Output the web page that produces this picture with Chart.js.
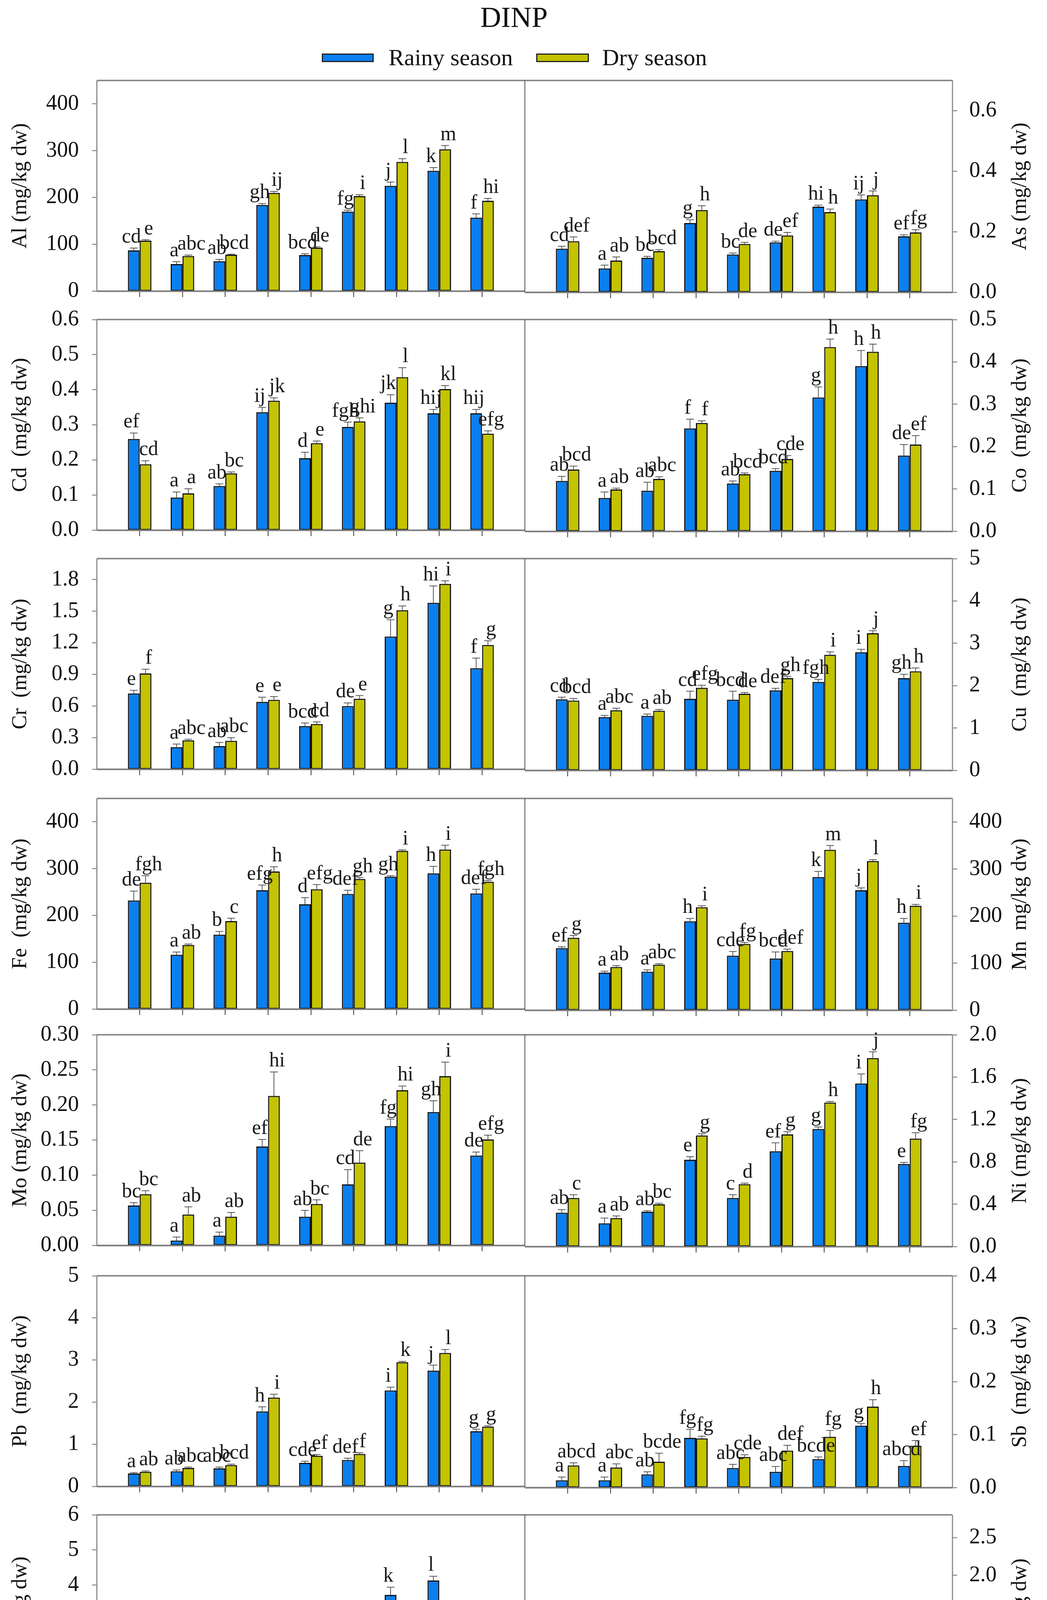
<!DOCTYPE html>
<html>
<head>
<meta charset="utf-8">
<title>DINP</title>
<script src="https://cdn.jsdelivr.net/npm/chart.js@4.4.1/dist/chart.umd.min.js"></script>
<style>
  html, body { margin: 0; padding: 0; background: #fff; }
  body { position: relative; width: 2681px; height: 5277px; overflow: hidden;
         font-family: "Liberation Serif", "Times New Roman", serif; color: #111; }
  #page { position: absolute; left: 0; top: 0; width: 2681px; height: 5277px; }
  canvas { position: absolute; }
  .txt { position: absolute; white-space: nowrap; line-height: 1; }
  .key { position: absolute; top: 137px; height: 22px; box-sizing: border-box; border: 3px solid #222; }
</style>
</head>
<body>
<div id="page">
<div class="txt" style="left:1316px; top:7px; font-size:74px; transform:translateX(-50%);">DINP</div>
<div class="key" style="left:824px; width:133px; background:#0a7ff0;"></div>
<div class="txt" style="left:995px; top:117px; font-size:60px;">Rainy season</div>
<div class="key" style="left:1373px; width:135px; background:#c3c300;"></div>
<div class="txt" style="left:1542px; top:117px; font-size:60px;">Dry season</div>
<div class="txt" style="left:1395px; top:5192px; font-size:61px; font-weight:bold; transform:translateX(-50%);">Monitoring site</div>
</div>

<script>
// monitoring sites (x axis)
const sites = ['DIC', 'DI1', 'DI2', 'DI3', 'DI4', 'DI5', 'DI6', 'DI7', 'DI8'];

// values, mg/kg dw
const alRainy = [87, 58, 64, 184, 77, 170, 225, 257, 157];
const alDry = [108, 75, 78, 210, 93, 203, 276, 303, 193];
const alRainyErr = [5, 5, 4, 3, 3, 3, 8, 7, 8];
const alDryErr = [2, 2, 1, 3, 2, 3, 7, 8, 5];
const alRainyTag = ['cd', 'a', 'ab', 'gh', 'bcd', 'fg', 'j', 'k', 'f'];
const alDryTag = ['e', 'abc', 'bcd', 'ij', 'de', 'i', 'l', 'm', 'hi'];

const asRainy = [0.144, 0.079, 0.114, 0.229, 0.125, 0.165, 0.283, 0.307, 0.185];
const asDry = [0.169, 0.105, 0.136, 0.272, 0.160, 0.188, 0.265, 0.321, 0.198];
const asRainyErr = [0.008, 0.011, 0.005, 0.011, 0.005, 0.004, 0.005, 0.015, 0.005];
const asDryErr = [0.014, 0.012, 0.005, 0.014, 0.005, 0.010, 0.010, 0.014, 0.009];
const asRainyTag = ['cd', 'a', 'bc', 'g', 'bc', 'de', 'hi', 'ij', 'ef'];
const asDryTag = ['def', 'ab', 'bcd', 'h', 'de', 'ef', 'h', 'j', 'fg'];

const cdRainy = [0.260, 0.093, 0.126, 0.336, 0.205, 0.294, 0.363, 0.333, 0.333];
const cdDry = [0.188, 0.105, 0.162, 0.369, 0.248, 0.310, 0.436, 0.402, 0.275];
const cdRainyErr = [0.017, 0.016, 0.006, 0.014, 0.017, 0.014, 0.023, 0.011, 0.011];
const cdDryErr = [0.010, 0.013, 0.004, 0.008, 0.006, 0.010, 0.027, 0.010, 0.008];
const cdRainyTag = ['ef', 'a', 'ab', 'ij', 'd', 'fgh', 'jk', 'hij', 'hij'];
const cdDryTag = ['cd', 'a', 'bc', 'jk', 'e', 'ghi', 'l', 'kl', 'efg'];

const coRainy = [0.119, 0.079, 0.096, 0.243, 0.113, 0.143, 0.316, 0.390, 0.179];
const coDry = [0.146, 0.099, 0.124, 0.256, 0.135, 0.171, 0.435, 0.424, 0.205];
const coRainyErr = [0.011, 0.014, 0.020, 0.022, 0.006, 0.005, 0.025, 0.037, 0.026];
const coDryErr = [0.008, 0.003, 0.005, 0.005, 0.003, 0.008, 0.019, 0.018, 0.021];
const coRainyTag = ['ab', 'a', 'ab', 'f', 'ab', 'bcd', 'g', 'h', 'de'];
const coDryTag = ['bcd', 'ab', 'abc', 'f', 'bcd', 'cde', 'h', 'h', 'ef'];

const crRainy = [0.72, 0.21, 0.22, 0.64, 0.41, 0.60, 1.26, 1.58, 0.96];
const crDry = [0.91, 0.275, 0.27, 0.66, 0.43, 0.67, 1.51, 1.76, 1.18];
const crRainyErr = [0.03, 0.03, 0.035, 0.045, 0.03, 0.03, 0.16, 0.16, 0.095];
const crDryErr = [0.04, 0.01, 0.03, 0.03, 0.02, 0.03, 0.04, 0.03, 0.04];
const crRainyTag = ['e', 'a', 'ab', 'e', 'bcd', 'de', 'g', 'hi', 'f'];
const crDryTag = ['f', 'abc', 'abc', 'e', 'cd', 'e', 'h', 'i', 'g'];

const cuRainy = [1.68, 1.26, 1.29, 1.69, 1.67, 1.89, 2.09, 2.79, 2.18];
const cuDry = [1.65, 1.42, 1.41, 1.95, 1.81, 2.18, 2.73, 3.24, 2.34];
const cuRainyErr = [0.05, 0.04, 0.04, 0.18, 0.20, 0.05, 0.06, 0.07, 0.09];
const cuDryErr = [0.05, 0.05, 0.03, 0.06, 0.03, 0.04, 0.07, 0.06, 0.08];
const cuRainyTag = ['cd', 'a', 'a', 'cd', 'bcd', 'def', 'fgh', 'i', 'gh'];
const cuDryTag = ['bcd', 'abc', 'ab', 'efg', 'de', 'gh', 'i', 'j', 'h'];

const feRainy = [232, 116, 159, 254, 224, 246, 283, 290, 247];
const feDry = [270, 137, 188, 294, 256, 278, 338, 341, 272];
const feRainyErr = [20, 6, 7, 11, 14, 8, 2, 15, 9];
const feDryErr = [15, 2, 6, 10, 10, 3, 2, 9, 3];
const feRainyTag = ['de', 'a', 'b', 'efg', 'd', 'def', 'gh', 'h', 'def'];
const feDryTag = ['fgh', 'ab', 'c', 'h', 'efg', 'gh', 'i', 'i', 'fgh'];

const mnRainy = [132, 80, 82, 189, 116, 110, 283, 255, 186];
const mnDry = [154, 92, 97, 219, 141, 126, 341, 317, 222];
const mnRainyErr = [3, 3, 4, 6, 9, 14, 12, 5, 9];
const mnDryErr = [5, 3, 2, 3, 3, 4, 9, 3, 3];
const mnRainyTag = ['ef', 'a', 'a', 'h', 'cde', 'bcd', 'k', 'j', 'h'];
const mnDryTag = ['g', 'ab', 'abc', 'i', 'fg', 'def', 'm', 'l', 'i'];

const moRainy = [0.057, 0.007, 0.014, 0.141, 0.041, 0.087, 0.170, 0.190, 0.128];
const moDry = [0.073, 0.044, 0.041, 0.213, 0.059, 0.118, 0.221, 0.241, 0.151];
const moRainyErr = [0.004, 0.005, 0.005, 0.010, 0.009, 0.021, 0.010, 0.016, 0.005];
const moDryErr = [0.005, 0.011, 0.006, 0.034, 0.006, 0.017, 0.006, 0.020, 0.006];
const moRainyTag = ['bc', 'a', 'a', 'ef', 'ab', 'cd', 'fg', 'gh', 'de'];
const moDryTag = ['bc', 'ab', 'ab', 'hi', 'bc', 'de', 'hi', 'i', 'efg'];

const niRainy = [0.32, 0.22, 0.33, 0.82, 0.46, 0.90, 1.11, 1.54, 0.78];
const niDry = [0.46, 0.27, 0.40, 1.05, 0.59, 1.06, 1.36, 1.78, 1.02];
const niRainyErr = [0.03, 0.05, 0.01, 0.03, 0.03, 0.08, 0.02, 0.09, 0.015];
const niDryErr = [0.03, 0.02, 0.01, 0.015, 0.01, 0.025, 0.01, 0.06, 0.055];
const niRainyTag = ['ab', 'a', 'ab', 'e', 'c', 'ef', 'g', 'i', 'e'];
const niDryTag = ['c', 'ab', 'bc', 'g', 'd', 'g', 'h', 'j', 'fg'];

const pbRainy = [0.31, 0.36, 0.43, 1.78, 0.56, 0.63, 2.28, 2.75, 1.31];
const pbDry = [0.35, 0.44, 0.51, 2.11, 0.73, 0.77, 2.95, 3.17, 1.42];
const pbRainyErr = [0.02, 0.03, 0.03, 0.11, 0.04, 0.04, 0.075, 0.13, 0.05];
const pbDryErr = [0.02, 0.02, 0.02, 0.08, 0.03, 0.03, 0.02, 0.08, 0.02];
const pbRainyTag = ['a', 'ab', 'abc', 'h', 'cde', 'def', 'i', 'j', 'g'];
const pbDryTag = ['ab', 'abc', 'bcd', 'i', 'ef', 'f', 'k', 'l', 'g'];

const sbRainy = [0.014, 0.014, 0.025, 0.094, 0.037, 0.030, 0.054, 0.117, 0.041];
const sbDry = [0.042, 0.038, 0.049, 0.093, 0.058, 0.070, 0.096, 0.153, 0.079];
const sbRainyErr = [0.006, 0.006, 0.005, 0.016, 0.007, 0.010, 0.004, 0.004, 0.010];
const sbDryErr = [0.005, 0.007, 0.016, 0.004, 0.004, 0.010, 0.012, 0.013, 0.010];
const sbRainyTag = ['a', 'a', 'ab', 'fg', 'abc', 'abc', 'bcde', 'g', 'abcd'];
const sbDryTag = ['abcd', 'abc', 'bcde', 'fg', 'cde', 'def', 'fg', 'h', 'ef'];

const tiRainy = [0.71, 0.86, 0.98, 1.45, 1.31, 1.51, 3.72, 4.13, 1.76];
const tiDry = [0.72, 1.05, 1.11, 1.71, 1.51, 1.65, 2.50, 2.72, 1.97];
const tiRainyErr = [0.03, 0.04, 0.04, 0.035, 0.04, 0.04, 0.22, 0.12, 0.03];
const tiDryErr = [0.02, 0.03, 0.03, 0.04, 0.02, 0.03, 0.07, 0.03, 0.10];
const tiRainyTag = ['a', 'ab', 'bc', 'ef', 'de', 'efg', 'k', 'l', 'h'];
const tiDryTag = ['a', 'bc', 'cd', 'gh', 'efg', 'fgh', 'j', 'j', 'i'];

const vRainy = [0.085, 0.088, 0.104, 0.268, 0.134, 0.149, 0.338, 0.372, 0.241];
const vDry = [0.125, 0.122, 0.131, 0.314, 0.171, 0.180, 0.363, 0.433, 0.268];
const vRainyErr = [0.01, 0.01, 0.01, 0.02, 0.01, 0.01, 0.015, 0.02, 0.02];
const vDryErr = [0.015, 0.01, 0.01, 0.02, 0.01, 0.01, 0.015, 0.02, 0.01];
const vRainyTag = ['a', 'a', 'ab', 'f', 'bcd', 'cde', 'gh', 'h', 'f'];
const vDryTag = ['abc', 'abc', 'bcd', 'g', 'de', 'e', 'h', 'i', 'f'];

const znRainy = [14.4, 15.7, 16.9, 23.0, 15.8, 16.9, 29.9, 30.2, 20.3];
const znDry = [17.8, 18.2, 19.9, 26.2, 18.8, 20.8, 36.3, 37.1, 24.0];
const znRainyErr = [0.5, 0.5, 0.8, 0.85, 1.1, 0.3, 0.5, 1.1, 0.9];
const znDryErr = [0.3, 0.5, 0.3, 1.2, 0.3, 0.3, 1.3, 1.3, 0.5];
const znRainyTag = ['a', 'ab', 'bcd', 'hi', 'abc', 'bcd', 'k', 'k', 'fg'];
const znDryTag = ['bcde', 'cdef', 'efg', 'j', 'defg', 'gh', 'l', 'l', 'i'];

// panels, row by row (left, right)
const panels = [
  {title: 'Al (mg/kg dw)', rainy: alRainy, dry: alDry, rErr: alRainyErr, dErr: alDryErr, rTag: alRainyTag, dTag: alDryTag, max: 450, step: 100, dec: 0},
  {title: 'As (mg/kg dw)', rainy: asRainy, dry: asDry, rErr: asRainyErr, dErr: asDryErr, rTag: asRainyTag, dTag: asDryTag, max: 0.7, step: 0.2, dec: 1},
  {title: 'Cd  (mg/kg dw)', rainy: cdRainy, dry: cdDry, rErr: cdRainyErr, dErr: cdDryErr, rTag: cdRainyTag, dTag: cdDryTag, max: 0.6, step: 0.1, dec: 1},
  {title: 'Co  (mg/kg dw)', rainy: coRainy, dry: coDry, rErr: coRainyErr, dErr: coDryErr, rTag: coRainyTag, dTag: coDryTag, max: 0.5, step: 0.1, dec: 1},
  {title: 'Cr  (mg/kg dw)', rainy: crRainy, dry: crDry, rErr: crRainyErr, dErr: crDryErr, rTag: crRainyTag, dTag: crDryTag, max: 2.0, step: 0.3, dec: 1},
  {title: 'Cu  (mg/kg dw)', rainy: cuRainy, dry: cuDry, rErr: cuRainyErr, dErr: cuDryErr, rTag: cuRainyTag, dTag: cuDryTag, max: 5, step: 1, dec: 0},
  {title: 'Fe  (mg/kg dw)', rainy: feRainy, dry: feDry, rErr: feRainyErr, dErr: feDryErr, rTag: feRainyTag, dTag: feDryTag, max: 450, step: 100, dec: 0},
  {title: 'Mn  mg/kg dw)', rainy: mnRainy, dry: mnDry, rErr: mnRainyErr, dErr: mnDryErr, rTag: mnRainyTag, dTag: mnDryTag, max: 450, step: 100, dec: 0},
  {title: 'Mo (mg/kg dw)', rainy: moRainy, dry: moDry, rErr: moRainyErr, dErr: moDryErr, rTag: moRainyTag, dTag: moDryTag, max: 0.3, step: 0.05, dec: 2},
  {title: 'Ni (mg/kg dw)', rainy: niRainy, dry: niDry, rErr: niRainyErr, dErr: niDryErr, rTag: niRainyTag, dTag: niDryTag, max: 2.0, step: 0.4, dec: 1},
  {title: 'Pb  (mg/kg dw)', rainy: pbRainy, dry: pbDry, rErr: pbRainyErr, dErr: pbDryErr, rTag: pbRainyTag, dTag: pbDryTag, max: 5, step: 1, dec: 0},
  {title: 'Sb  (mg/kg dw)', rainy: sbRainy, dry: sbDry, rErr: sbRainyErr, dErr: sbDryErr, rTag: sbRainyTag, dTag: sbDryTag, max: 0.4, step: 0.1, dec: 1},
  {title: 'Ti  (mg/kg dw)', rainy: tiRainy, dry: tiDry, rErr: tiRainyErr, dErr: tiDryErr, rTag: tiRainyTag, dTag: tiDryTag, max: 6, step: 1, dec: 0},
  {title: 'V  (mg/kg dw)', rainy: vRainy, dry: vDry, rErr: vRainyErr, dErr: vDryErr, rTag: vRainyTag, dTag: vDryTag, max: 2.8, step: 0.5, dec: 1},
  {title: 'Zn  (mg/kg dw)', rainy: znRainy, dry: znDry, rErr: znRainyErr, dErr: znDryErr, rTag: znRainyTag, dTag: znDryTag, max: 60, step: 10, dec: 0},
  null // empty bottom-right panel, axis only
];

const SERIF = '"Liberation Serif", "Times New Roman", serif';
const BLUE = '#0a7ff0';
const YELLOW = '#c3c300';

const rowTops = [206, 818, 1430, 2044, 2649, 3266, 3878, 4488];
const PLOT_H = 547;
const PAD_TOP = 70;
const SPLIT = 1344;     // shared edge of left and right panels
const RIGHT_EDGE = 2439;
const page = document.getElementById('page');

// panel box: top/bottom/outer/inner edges
const frame = {
  id: 'frame',
  afterDatasetsDraw(chart, args, o) {
    const {ctx, chartArea: a} = chart;
    const line = (x1, y1, x2, y2, w, c) => {
      ctx.beginPath();
      ctx.lineWidth = w;
      ctx.strokeStyle = c;
      ctx.moveTo(x1, y1);
      ctx.lineTo(x2, y2);
      ctx.stroke();
    };
    const outer = o.col === 0 ? a.left : a.right;
    const inner = o.col === 0 ? a.right : a.left;
    ctx.save();
    line(a.left, a.top, a.right, a.top, 4, '#8c8c8c');
    line(inner, a.top, inner, a.bottom, 1.5, '#444');
    line(outer, a.top, outer, a.bottom, 3, '#8c8c8c');
    line(a.left, a.bottom, a.right, a.bottom, 4, '#7a7a7a');
    ctx.restore();
  }
};

// upper error bars and the letter groups above them
const errorBars = {
  id: 'errorBars',
  afterDatasetsDraw(chart) {
    const {ctx} = chart;
    const yScale = chart.scales.y;
    ctx.save();
    chart.data.datasets.forEach((ds, di) => {
      const meta = chart.getDatasetMeta(di);
      meta.data.forEach((bar, i) => {
        const top = yScale.getPixelForValue(ds.data[i].y + ds.err[i]);
        ctx.strokeStyle = '#555';
        ctx.lineWidth = 2;
        ctx.beginPath();
        ctx.moveTo(bar.x, bar.y);
        ctx.lineTo(bar.x, top);
        ctx.moveTo(bar.x - 10, top);
        ctx.lineTo(bar.x + 10, top);
        ctx.stroke();
        ctx.fillStyle = '#1a1a1a';
        ctx.font = '52px ' + SERIF;
        ctx.textAlign = 'center';
        ctx.textBaseline = 'alphabetic';
        ctx.fillText(ds.tags[i], bar.x + ds.tagShift, top - 14);
      });
    });
    ctx.restore();
  }
};

// right-hand axis titles read bottom to top like the left ones
const sideTitle = {
  id: 'sideTitle',
  afterDraw(chart, args, o) {
    if (!o.text) return;
    const {ctx, chartArea: a} = chart;
    ctx.save();
    ctx.translate(o.x, (a.top + a.bottom) / 2);
    ctx.rotate(-Math.PI / 2);
    ctx.font = '54px ' + SERIF;
    ctx.fillStyle = '#111';
    ctx.textAlign = 'center';
    ctx.textBaseline = 'middle';
    ctx.fillText(o.text, 0, 0);
    ctx.restore();
  }
};

function makePanel(p, row, col) {
  const last = row === rowTops.length - 1;
  const xH = last ? 170 : 20;
  const padB = last ? 10 : 40;
  const left = col === 0 ? 0 : SPLIT - 20;
  const width = col === 0 ? SPLIT + 20 : 2681 - left;
  const yW = col === 0 ? 248 : 2681 - RIGHT_EDGE;

  const canvas = document.createElement('canvas');
  canvas.width = width;
  canvas.height = PAD_TOP + PLOT_H + xH + padB;
  canvas.style.left = left + 'px';
  canvas.style.top = (rowTops[row] - PAD_TOP) + 'px';
  page.appendChild(canvas);

  const datasets = p ? [
    {label: 'Rainy season', data: p.rainy.map((v, i) => ({x: i + 1, y: v})),
     backgroundColor: BLUE, err: p.rErr, tags: p.rTag, tagShift: -6},
    {label: 'Dry season', data: p.dry.map((v, i) => ({x: i + 1, y: v})),
     backgroundColor: YELLOW, err: p.dErr, tags: p.dTag, tagShift: 8}
  ] : [];
  datasets.forEach(d => {
    d.borderColor = '#111';
    d.borderWidth = 3;
    d.borderSkipped = false;
    d.categoryPercentage = 0.55;
    d.barPercentage = 1.0;
  });

  new Chart(canvas, {
    type: 'bar',
    data: {datasets},
    plugins: [frame, errorBars, sideTitle],
    options: {
      responsive: false,
      animation: false,
      events: [],
      layout: {padding: {left: col === 0 ? 0 : 20, right: col === 0 ? 20 : 0, top: PAD_TOP, bottom: padB}},
      plugins: {
        legend: {display: false},
        tooltip: {enabled: false},
        frame: {col},
        sideTitle: {text: col === 1 && p ? p.title : '', x: 2613 - left}
      },
      scales: {
        x: {
          type: 'linear',
          min: 0,
          max: 10,
          offset: false,
          afterBuildTicks: s => { s.ticks = sites.map((_, i) => ({value: i + 1})); },
          afterFit: s => { s.height = xH; },
          ticks: {
            display: last,
            autoSkip: false,
            minRotation: 40,
            maxRotation: 40,
            padding: 6,
            color: '#111',
            font: {family: SERIF, size: 54},
            callback: v => sites[v - 1]
          },
          grid: {display: true, offset: false, drawOnChartArea: false, drawTicks: true,
                 tickLength: 15, tickColor: '#333', tickWidth: 2},
          border: {display: false}
        },
        y: {
          position: col === 0 ? 'left' : 'right',
          min: 0,
          max: p ? p.max : 1,
          afterFit: s => { s.width = yW; },
          ticks: {
            display: !!p,
            stepSize: p ? p.step : 1,
            includeBounds: false,
            padding: col === 0 ? 34 : 31,
            color: '#111',
            font: {family: SERIF, size: 56},
            callback: v => v.toFixed(p ? p.dec : 0)
          },
          grid: {display: !!p, drawOnChartArea: false, drawTicks: true,
                 tickLength: 12, tickColor: '#999', tickWidth: 3},
          border: {display: false},
          title: {
            display: col === 0 && !!p,
            text: p ? p.title : '',
            color: '#111',
            font: {family: SERIF, size: 54},
            padding: {top: 20, bottom: 0}
          }
        }
      }
    }
  });
}

panels.forEach((p, k) => makePanel(p, Math.floor(k / 2), k % 2));
</script>
</body>
</html>
